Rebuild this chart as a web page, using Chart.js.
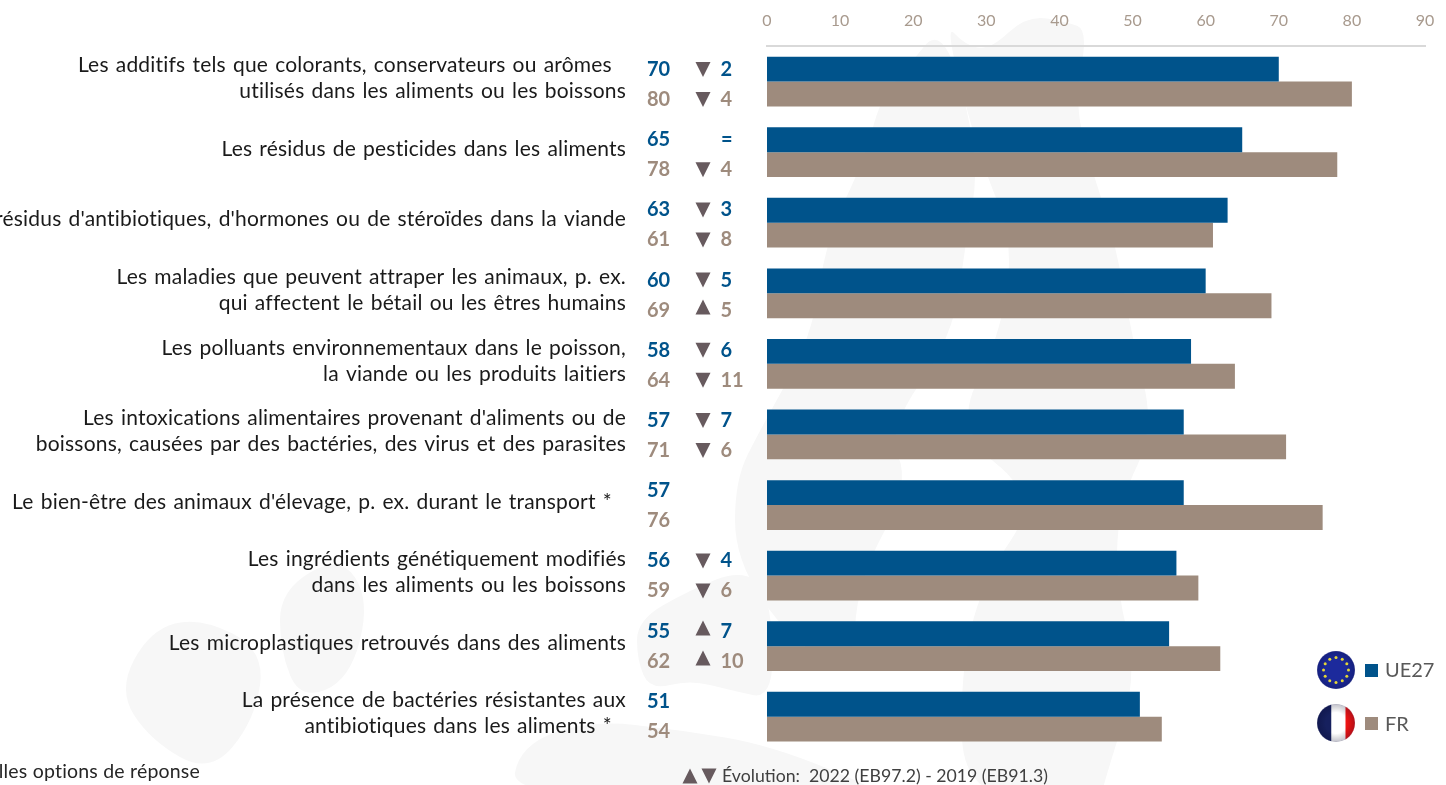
<!DOCTYPE html>
<html><head><meta charset="utf-8">
<style>html,body{margin:0;padding:0;background:#fff;overflow:hidden}#w{position:absolute;left:0;top:0;width:1446px;height:785px}</style>
<script src="https://cdn.jsdelivr.net/npm/chart.js@4"></script></head>
<body><div id="w"><canvas id="c"></canvas></div>
<script>
const categories = [
 ["Les additifs tels que colorants, conservateurs ou arômes  ","utilisés dans les aliments ou les boissons"],
 ["Les résidus de pesticides dans les aliments"],
 ["Les résidus d'antibiotiques, d'hormones ou de stéroïdes dans la viande"],
 ["Les maladies que peuvent attraper les animaux, p. ex.","qui affectent le bétail ou les êtres humains"],
 ["Les polluants environnementaux dans le poisson,","la viande ou les produits laitiers"],
 ["Les intoxications alimentaires provenant d'aliments ou de","boissons, causées par des bactéries, des virus et des parasites"],
 ["Le bien-être des animaux d'élevage, p. ex. durant le transport *  "],
 ["Les ingrédients génétiquement modifiés","dans les aliments ou les boissons"],
 ["Les microplastiques retrouvés dans des aliments"],
 ["La présence de bactéries résistantes aux","antibiotiques dans les aliments *  "]
];
const ue27 = [70,65,63,60,58,57,57,56,55,51];
const fr   = [80,78,61,69,64,71,76,59,62,54];
const ueChange = ["▼2","=","▼3","▼5","▼6","▼7","","▼4","▲7",""];
const frChange = ["▼4","▼4","▼8","▲5","▼11","▼6","","▼6","▲10",""];
const xTicks = [0,10,20,30,40,50,60,70,80,90];
const BLUE="#00538B", TAN="#9E8B7D", TRI="#675A5E", FONT="Lato, Carlito, sans-serif";

// faint decorative map behind the chart
const mapShapes = [
 [[944,22],[965,45],[990,50],[1027,15],[1067,22],[1088,30],[1075,100],[1088,158],[1115,240],[1132,337],[1155,430],[1120,500],[1115,582],[1138,675],[1107,773],[1100,800],[964,800],[960,675],[982,582],[1040,498],[953,430],[1000,337],[1014,240],[980,160]],
 [[865,158],[880,100],[905,70],[944,22],[980,160],[966,240],[953,337],[887,430],[910,484],[857,582],[853,675],[790,640],[735,560],[735,480],[760,430],[812,337],[826,240]],
 [[637,620],[690,590],[740,570],[770,590],[775,700],[730,690],[690,680],[650,690],[637,660]],
 [[118,690],[150,630],[200,617],[265,650],[255,720],[210,774],[150,740]],
 [[280,590],[340,555],[370,600],[350,680],[300,700],[280,650]],
 [[510,800],[520,745],[590,720],[680,730],[770,745],[880,790],[880,800]]
];

function smooth(c,s){
  const n=s.length, m=(a,b)=>[(a[0]+b[0])/2,(a[1]+b[1])/2];
  const st=m(s[n-1],s[0]); c.beginPath(); c.moveTo(st[0],st[1]);
  for(let i=0;i<n;i++){const e=m(s[i],s[(i+1)%n]); c.quadraticCurveTo(s[i][0],s[i][1],e[0],e[1]);}
  c.closePath();
}
const bgPlugin = { id:'bg', beforeDraw(ch){
  const c=ch.ctx; c.save(); c.fillStyle='#f7f7f7';
  mapShapes.forEach(s=>{smooth(c,s);c.fill();});
  c.restore();
}};

function tri(c,x,y,up){ c.fillStyle=TRI; c.beginPath();
  if(up){c.moveTo(x-7.5,y+7.5);c.lineTo(x+7.5,y+7.5);c.lineTo(x,y-7.5);}
  else{c.moveTo(x-7.5,y-7.5);c.lineTo(x+7.5,y-7.5);c.lineTo(x,y+7.5);}
  c.closePath();c.fill();}

function flagShade(c,x,y,r){
  const g=c.createRadialGradient(x,y,r*0.55,x,y,r);
  g.addColorStop(0,'rgba(0,0,0,0)');g.addColorStop(0.9,'rgba(0,0,40,0.22)');g.addColorStop(1,'rgba(170,170,185,0.6)');
  c.fillStyle=g;c.beginPath();c.arc(x,y,r,0,Math.PI*2);c.fill();
}

const overlay = { id:'overlay', afterDraw(ch){
  const c=ch.ctx, y=ch.scales.y; c.save();
  // category labels
  c.fillStyle='#1a1a1a'; c.font='21px '+FONT; c.textAlign='right'; c.textBaseline='middle';
  c.letterSpacing='0.2px'; c.wordSpacing='1.5px';
  categories.forEach((lines,i)=>{
    const cy=y.getPixelForTick(i)-3;
    lines.forEach((t,j)=>c.fillText(t,626,cy+(j-(lines.length-1)/2)*26));
  });
  c.letterSpacing='0px'; c.wordSpacing='0px';
  // values + changes
  const rows=[[ue27,ueChange,BLUE,69.5],[fr,frChange,TAN,99.5]];
  rows.forEach(([vals,chg,col,y0])=>{
    vals.forEach((v,i)=>{
      const py=y0+70.2*i;
      c.font='bold 20px '+FONT; c.fillStyle=col; c.textAlign='left'; c.textBaseline='middle';
      c.fillText(String(v),647,py);
      const s=chg[i]; if(!s) return;
      if(s==='='){c.fillText('=',721,py);return;}
      c.fillText(s.slice(1),720.5,py);
      const up=s[0]==='▲'; tri(c,703,py+(up?-3:0),up);
    });
  });
  // footer
  c.fillStyle='#262626'; c.textBaseline='middle'; c.textAlign='right'; c.font='19.5px '+FONT;
  c.letterSpacing='0.2px';
  c.fillText('* Nouvelles options de réponse',200,772);
  c.letterSpacing='0px';
  c.textAlign='left'; c.fillStyle='#404040'; c.font='17.7px '+FONT;
  c.fillText('Évolution:  2022 (EB97.2) - 2019 (EB91.3)',722,776);
  tri(c,690,776,true); tri(c,709,776,false);
  // legend
  const lx=1336, ly1=670, ly2=723, r=19;
  c.save();c.beginPath();c.arc(lx,ly1,r,0,Math.PI*2);c.clip();
  c.fillStyle='#1c2a9c';c.fillRect(lx-r,ly1-r,2*r,2*r);c.restore();
  c.fillStyle='#f2e33a';
  for(let k=0;k<12;k++){const a=k*Math.PI/6;c.beginPath();c.arc(lx+12.5*Math.cos(a),ly1+12.5*Math.sin(a),1.5,0,Math.PI*2);c.fill();}
  flagShade(c,lx,ly1,r);
  c.save();c.beginPath();c.arc(lx,ly2,r,0,Math.PI*2);c.clip();
  c.fillStyle='#fff';c.fillRect(lx-r,ly2-r,2*r,2*r);
  c.fillStyle='#16205e';c.fillRect(lx-r,ly2-r,r*0.75,2*r);
  c.fillStyle='#f01414';c.fillRect(lx+r*0.5,ly2-r,r*0.5,2*r);c.restore();
  flagShade(c,lx,ly2,r);
  c.fillStyle=BLUE;c.fillRect(1365,664,13,13);
  c.fillStyle=TAN;c.fillRect(1365,717,13,13);
  c.fillStyle='#595959';c.font='20px '+FONT;c.textAlign='left';
  c.fillText('UE27',1385,671);c.fillText('FR',1385,725);
  c.restore();
}};

new Chart(document.getElementById('c'),{
  type:'bar',
  data:{labels:categories,datasets:[
    {label:'UE27',data:ue27,backgroundColor:BLUE},
    {label:'FR',data:fr,backgroundColor:TAN}
  ]},
  options:{
    indexAxis:'y',responsive:true,maintainAspectRatio:false,animation:false,
    layout:{padding:{top:0,right:21,bottom:33,left:0}},
    datasets:{bar:{barPercentage:1,categoryPercentage:0.705}},
    plugins:{legend:{display:false},tooltip:{enabled:false}},
    scales:{
      x:{position:'top',min:0,max:90,
        afterBuildTicks(s){s.ticks=xTicks.map(v=>({value:v}));},
        afterFit(s){s.height=46.3;s.paddingRight=0;s.paddingLeft=0;},
        grid:{display:false,drawTicks:false},
        border:{display:true,color:'#d9d9d9',width:2},
        ticks:{color:'#A89A8E',font:{family:FONT,size:16},padding:16,maxRotation:0}},
      y:{afterFit(s){s.width=767;},
        grid:{display:false,drawTicks:false},border:{display:false},
        ticks:{display:false,autoSkip:false}}
    }
  },
  plugins:[bgPlugin,overlay]
});
</script></body></html>
